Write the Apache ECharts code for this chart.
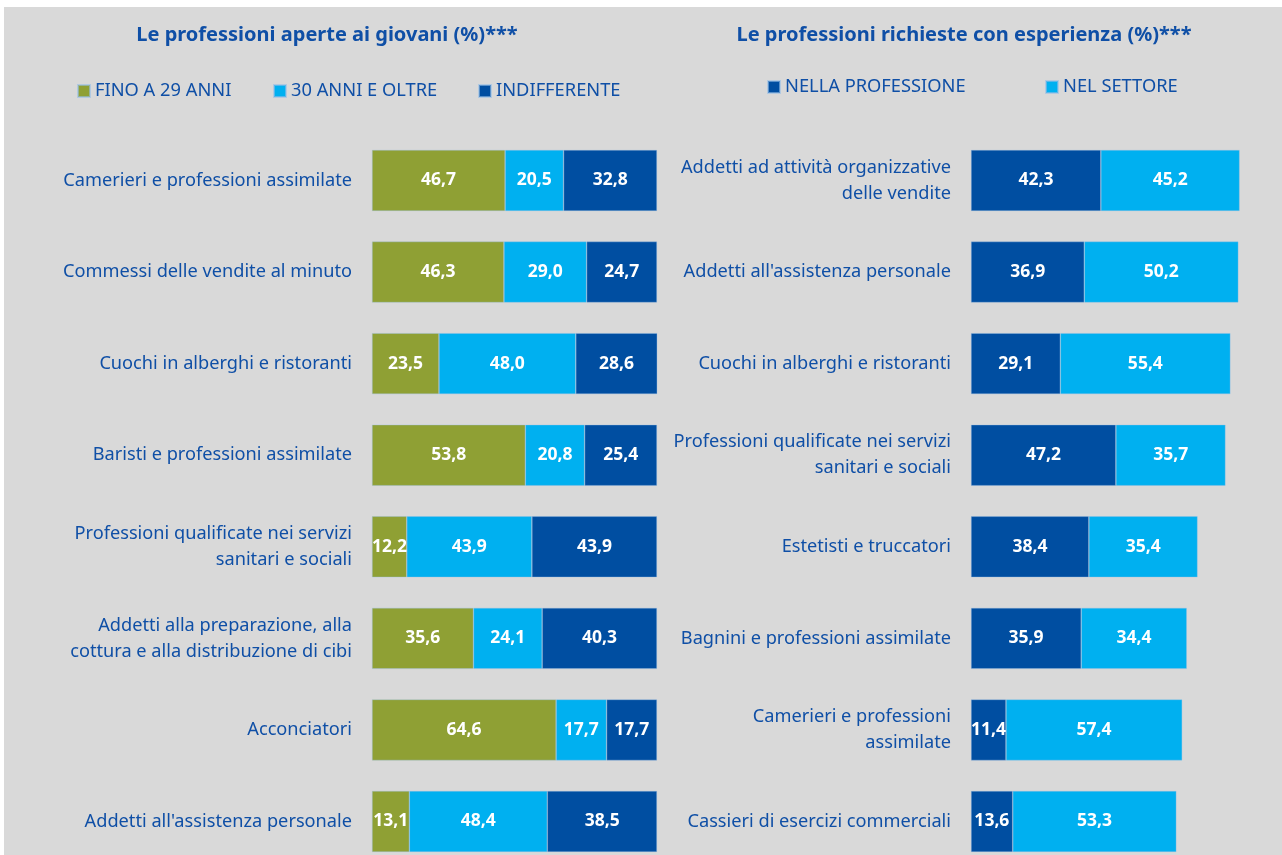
<!DOCTYPE html>
<html><head><meta charset="utf-8">
<script src="https://cdn.jsdelivr.net/npm/echarts@6/dist/echarts.min.js"></script>
<style>html,body{margin:0;padding:0;background:#fff;overflow:hidden;}#c{position:absolute;left:4px;top:7px;width:1278px;height:880px;background:#d9d9d9;}</style>
</head><body><div id="c"></div>
<script>
// Left chart data
const catsLeft = ["Camerieri e professioni assimilate","Commessi delle vendite al minuto","Cuochi in alberghi e ristoranti","Baristi e professioni assimilate","Professioni qualificate nei servizi\nsanitari e sociali","Addetti alla preparazione, alla\ncottura e alla distribuzione di cibi","Acconciatori","Addetti all'assistenza personale"];
const fino29 = [46.7,46.3,23.5,53.8,12.2,35.6,64.6,13.1];
const oltre30 = [20.5,29.0,48.0,20.8,43.9,24.1,17.7,48.4];
const indiff = [32.8,24.7,28.6,25.4,43.9,40.3,17.7,38.5];
// Right chart data
const catsRight = ["Addetti ad attività organizzative\ndelle vendite","Addetti all'assistenza personale","Cuochi in alberghi e ristoranti","Professioni qualificate nei servizi\nsanitari e sociali","Estetisti e truccatori","Bagnini e professioni assimilate","Camerieri e professioni\nassimilate","Cassieri di esercizi commerciali"];
const nellaProf = [42.3,36.9,29.1,47.2,38.4,35.9,11.4,13.6];
const nelSettore = [45.2,50.2,55.4,35.7,35.4,34.4,57.4,53.3];

const GREEN='#8fa034', LBLUE='#00b0f0', DBLUE='#004ea1', TXT='#0f4fa6';
const FONT='Noto Sans';
const chart = echarts.init(document.getElementById('c'));
const fmt = p => p.value.toFixed(1).replace('.', ',');
function bar(name, data, color, idx){
  return {name, type:'bar', stack:'s'+idx, xAxisIndex:idx, yAxisIndex:idx, data, barWidth:61,
    itemStyle:{color, borderColor:'rgba(150,190,230,0.6)', borderWidth:0.6},
    label:{show:true, position:'inside', formatter:fmt, color:'#fff', fontWeight:'bold', fontSize:17.5, fontFamily:FONT},
    emphasis:{disabled:true}};
}
function leg(name, x, y){
  return {data:[name], left:x, top:y, padding:0, icon:'rect', itemWidth:12, itemHeight:12, itemGap:0,
    textStyle:{color:TXT, fontSize:18.3, fontFamily:FONT, padding:[0,0,0,0]}, selectedMode:false};
}
const grids = [{left:368, top:127.7, width:285, height:732.6},{left:967, top:127.7, width:307, height:732.6}];
const yAx = (cats, i) => ({type:'category', gridIndex:i, data:cats, inverse:true,
  axisLine:{show:false}, axisTick:{show:false},
  axisLabel:{color:TXT, fontSize:18.2, fontFamily:FONT, margin:20, lineHeight:26, align:'right'}});
const xAx = i => ({type:'value', gridIndex:i, min:0, max:100, show:false, splitLine:{show:false}});
chart.setOption({
  animation:false,
  textStyle:{fontFamily:FONT},
  title:[
    {text:'Le professioni aperte ai giovani (%)***', left:318, textAlign:'center', top:13, textStyle:{color:TXT, fontSize:20, fontWeight:'bold', fontFamily:FONT}},
    {text:'Le professioni richieste con esperienza (%)***', left:955, textAlign:'center', top:13, textStyle:{color:TXT, fontSize:20, fontWeight:'bold', fontFamily:FONT}}
  ],
  legend:[leg('FINO A 29 ANNI',73,75), leg('30 ANNI E OLTRE',269,75), leg('INDIFFERENTE',474,75),
          leg('NELLA PROFESSIONE',763,71), leg('NEL SETTORE',1041,71)],
  grid:grids,
  xAxis:[xAx(0), xAx(1)],
  yAxis:[yAx(catsLeft,0), yAx(catsRight,1)],
  series:[bar('FINO A 29 ANNI',fino29,GREEN,0), bar('30 ANNI E OLTRE',oltre30,LBLUE,0), bar('INDIFFERENTE',indiff,DBLUE,0),
          bar('NELLA PROFESSIONE',nellaProf,DBLUE,1), bar('NEL SETTORE',nelSettore,LBLUE,1)]
});
</script></body></html>
